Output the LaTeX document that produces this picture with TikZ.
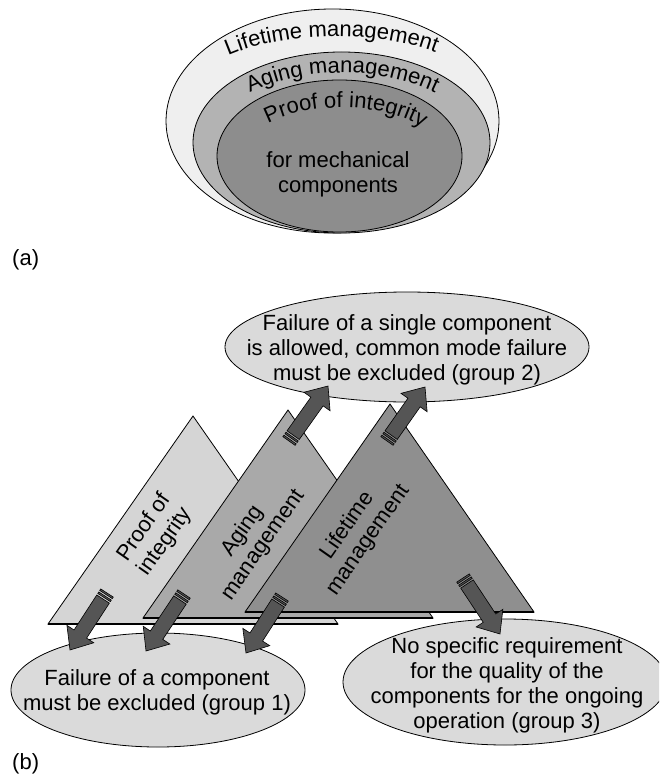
\documentclass[tikz,border=0pt]{standalone}
\usepackage{fontspec}
\setmainfont{Liberation Sans}
\usetikzlibrary{shapes.geometric,decorations.text,calc}

\definecolor{outerfill}{HTML}{EFEFEF}
\definecolor{middlefill}{HTML}{B3B3B3}
\definecolor{innerfill}{HTML}{8D8D8D}
\definecolor{grpfill}{HTML}{DADADA}
\definecolor{triA}{HTML}{D5D5D5}
\definecolor{triB}{HTML}{A9A9A9}
\definecolor{triC}{HTML}{8F8F8F}
\definecolor{arrowfill}{HTML}{555555}

\newcommand\arcfont{\fontsize{22}{25}\selectfont}

\tikzset{
  lbl/.style={font=\fontsize{22}{25}\selectfont, inner sep=0pt},
  ring/.style={ellipse, draw=black, line width=0.8pt, inner sep=0pt},
  groupshape/.style={ellipse, draw=black, line width=0.8pt, fill=grpfill, inner sep=0pt},
  tri/.style={draw=black, line width=0.8pt, line join=miter},
  sarrow/.style={draw=black, line width=0.6pt, fill=arrowfill, line join=miter},
  arctext/.style={decorate, decoration={text along path, text={|\arcfont|#1}, text align=center}}
}

% block arrow with two stripes at its tail, drawn from coordinate #1 to #2
\newcommand\stripedarrow[2]{%
  \pgfpointdiff{\pgfpointanchor{#1}{center}}{\pgfpointanchor{#2}{center}}%
  \pgfgetlastxy{\arrdx}{\arrdy}%
  \pgfmathsetmacro\arrang{atan2(\arrdy,\arrdx)}%
  \pgfmathsetmacro\arrlen{veclen(\arrdx,\arrdy)}%
  \begin{scope}[shift={(#1)}, rotate=\arrang, x=1pt, y=1pt]
    \filldraw[sarrow] (0,-7.5) rectangle (1.8,7.5);
    \filldraw[sarrow] (3.6,-7.5) rectangle (5.4,7.5);
    \filldraw[sarrow] (7.2,-7.5) -- ({\arrlen-19},-7.5) -- ({\arrlen-19},-16)
      -- (\arrlen,0) -- ({\arrlen-19},16) -- ({\arrlen-19},7.5) -- (7.2,7.5) -- cycle;
  \end{scope}}

\begin{document}
\begin{tikzpicture}[x=1pt, y=-1pt]
\useasboundingbox (0,0) rectangle (659,778);
\clip (0,0) rectangle (659,778);

% ---------- (a) nested rings ----------
\node[ring, fill=outerfill, minimum width=333pt, minimum height=224pt] (lifering) at (332.5,121) {};
\node[ring, fill=middlefill, minimum width=297pt, minimum height=181pt] (agering) at (341.5,142.5) {};
\node[ring, fill=innerfill, minimum width=245pt, minimum height=152pt] (proofring) at (339.5,156) {};

\path[arctext=Lifetime management] (212,64) .. controls (272,28) and (392,28) .. (452,60);
\path[arctext=Aging management] (238,99) .. controls (298,64) and (387,64) .. (447,99);
\path[arctext=Proof of integrity] (256,131) .. controls (298,99) and (392,99) .. (434,136);

\node[lbl, align=center] (mech) at (338,174) {for mechanical\\components};

\node[lbl, anchor=base west] (tagA) at (12,265) {(a)};

% ---------- (b) groups ----------
\node[groupshape, minimum width=364pt, minimum height=110pt] (grp2) at (407,347) {};
\node[lbl, align=center] (grp2txt) at (407,350)
  {Failure of a single component\\is allowed, common mode failure\\must be excluded (group 2)};

\node[groupshape, minimum width=294pt, minimum height=114pt] (grp1) at (158,690) {};
\node[lbl, align=center] (grp1txt) at (157,692)
  {Failure of a component\\must be excluded (group 1)};

\node[groupshape, minimum width=324pt, minimum height=126pt] (grp3) at (505,682) {};
\node[lbl, align=center] (grp3txt) at (507,685)
  {No specific requirement\\for the quality of the\\components for the ongoing\\operation (group 3)};

% triangles
\coordinate (t1l) at (48,624);  \coordinate (t1r) at (338,624); \coordinate (t1a) at (193,416);
\coordinate (t2l) at (143,618); \coordinate (t2r) at (433,618); \coordinate (t2a) at (288,410);
\coordinate (t3l) at (245,612); \coordinate (t3r) at (534,612); \coordinate (t3a) at (390,404);

\filldraw[tri, fill=triA] (t1l) -- (t1r) -- (t1a) -- cycle;
\draw[line width=1.8pt] (t1l) -- (t1r);
\filldraw[tri, fill=triB] (t2l) -- (t2r) -- (t2a) -- cycle;
\draw[line width=1.8pt] (t2l) -- (t2r);
\filldraw[tri, fill=triC] (t3l) -- (t3r) -- (t3a) -- cycle;
\draw[line width=1.8pt] (t3l) -- (t3r);

\node[lbl, align=center, rotate=55] (proofttl) at (155,535) {Proof of\\integrity};
\node[lbl, align=center, rotate=55] (agettl) at (253,538) {Aging\\management};
\node[lbl, align=center, rotate=55] (lifettl) at (358,533) {Lifetime\\management};

% arrows
\coordinate (a1s) at (289,441); \coordinate (a1e) at (328,386);
\coordinate (a2s) at (387,441); \coordinate (a2e) at (425,387);
\coordinate (a3s) at (107,593); \coordinate (a3e) at (70,650);
\coordinate (a4s) at (184,594); \coordinate (a4e) at (146,651);
\coordinate (a5s) at (282,597); \coordinate (a5e) at (246,653);
\coordinate (a6s) at (463,578); \coordinate (a6e) at (500,634);

\stripedarrow{a1s}{a1e}
\stripedarrow{a2s}{a2e}
\stripedarrow{a3s}{a3e}
\stripedarrow{a4s}{a4e}
\stripedarrow{a5s}{a5e}
\stripedarrow{a6s}{a6e}

\node[lbl, anchor=base west] (tagB) at (12,769) {(b)};
\end{tikzpicture}
\end{document}
